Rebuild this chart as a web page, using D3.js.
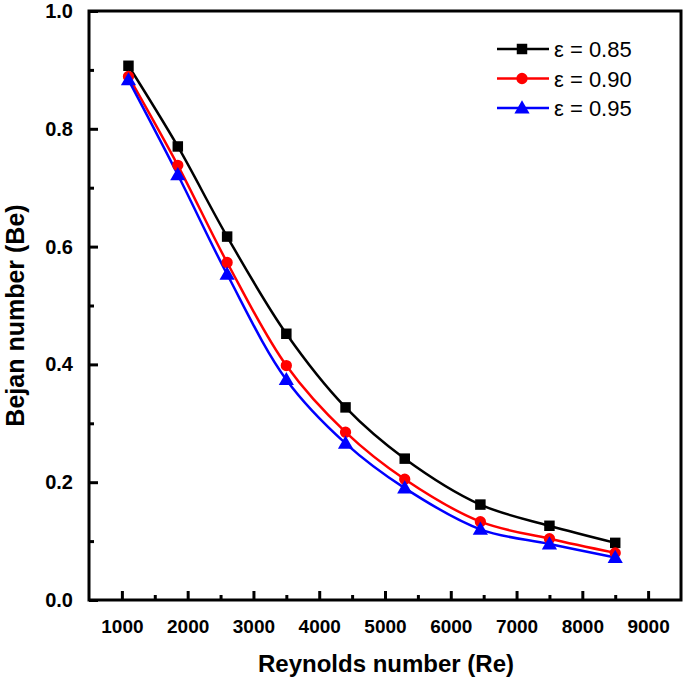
<!DOCTYPE html>
<html><head><meta charset="utf-8">
<script src="https://cdn.jsdelivr.net/npm/d3@7"></script>
<style>body{margin:0;background:#fff}svg{display:block}</style>
</head><body>
<script>
const reynolds = [1100, 1850, 2600, 3500, 4400, 5300, 6450, 7500, 8500];
const be085 = [0.907, 0.770, 0.617, 0.452, 0.327, 0.240, 0.162, 0.126, 0.097];
const be090 = [0.889, 0.738, 0.573, 0.398, 0.285, 0.205, 0.133, 0.104, 0.080];
const be095 = [0.883, 0.722, 0.553, 0.374, 0.266, 0.190, 0.120, 0.095, 0.072];
const seriesNames = ["ε = 0.85", "ε = 0.90", "ε = 0.95"];
const seriesColors = ["#000000", "#ff0000", "#0000ff"];
const seriesSymbols = ["square", "circle", "triangle"];
const xTicks = [1000, 2000, 3000, 4000, 5000, 6000, 7000, 8000, 9000];
const xMinor = [1500, 2500, 3500, 4500, 5500, 6500, 7500, 8500];
const yTicks = [0, 0.2, 0.4, 0.6, 0.8, 1.0];
const yMinor = [0.1, 0.3, 0.5, 0.7, 0.9];

const W = 685, H = 679;
const L = 89, R = 681, T = 11, B = 600;
const FONT = "Liberation Sans, Arial, sans-serif";
const svg = d3.select("body").append("svg").attr("width", W).attr("height", H);
const x = d3.scaleLinear().domain([500, 9500]).range([L, R]);
const y = d3.scaleLinear().domain([0, 1]).range([B, T]);

const series = [be085, be090, be095].map((v, i) => ({
  name: seriesNames[i], color: seriesColors[i], sym: seriesSymbols[i],
  pts: reynolds.map((r, j) => [r, v[j]])
}));

const line = d3.line().x(d => x(d[0])).y(d => y(d[1])).curve(d3.curveCatmullRom.alpha(0.5));
const symMap = {square: d3.symbolSquare, circle: d3.symbolCircle, triangle: d3.symbolTriangle};
const symSize = {square: 110, circle: 100, triangle: 100};

const plot = svg.append("g");
series.forEach(s => {
  plot.append("path").attr("d", line(s.pts)).attr("fill", "none")
    .attr("stroke", s.color).attr("stroke-width", 2.5);
});
series.forEach(s => {
  plot.selectAll(null).data(s.pts).enter().append("path")
    .attr("d", d3.symbol().type(symMap[s.sym]).size(symSize[s.sym]))
    .attr("transform", d => `translate(${x(d[0])},${y(d[1]) + (s.sym === "triangle" ? 1 : 0)})`)
    .attr("fill", s.color);
});

// frame
svg.append("rect").attr("x", L).attr("y", T).attr("width", R - L).attr("height", B - T)
  .attr("fill", "none").attr("stroke", "#000").attr("stroke-width", 3);

// x axis ticks (inward)
const xAxis = d3.axisBottom(x).tickValues(xTicks).tickSizeInner(-9).tickSizeOuter(0).tickPadding(20)
  .tickFormat(d3.format("d"));
const gx = svg.append("g").attr("transform", `translate(0,${B})`).call(xAxis);
gx.select(".domain").remove();
gx.selectAll(".tick line").attr("stroke-width", 3);
gx.selectAll(".tick text").attr("font-family", FONT)
  .attr("font-weight", "bold").attr("font-size", 19).attr("fill", "#000");
const gxm = svg.append("g").attr("transform", `translate(0,${B})`)
  .call(d3.axisBottom(x).tickValues(xMinor).tickSizeInner(-5).tickSizeOuter(0).tickFormat(""));
gxm.select(".domain").remove();
gxm.selectAll(".tick line").attr("stroke-width", 3);

// y axis ticks (inward)
const yAxis = d3.axisLeft(y).tickValues(yTicks).tickSizeInner(-9).tickSizeOuter(0).tickPadding(16)
  .tickFormat(d3.format(".1f"));
const gy = svg.append("g").attr("transform", `translate(${L},0)`).call(yAxis);
gy.select(".domain").remove();
gy.selectAll(".tick line").attr("stroke-width", 3);
gy.selectAll(".tick text").attr("font-family", FONT)
  .attr("font-weight", "bold").attr("font-size", 20).attr("fill", "#000");
const gym = svg.append("g").attr("transform", `translate(${L},0)`)
  .call(d3.axisLeft(y).tickValues(yMinor).tickSizeInner(-5).tickSizeOuter(0).tickFormat(""));
gym.select(".domain").remove();
gym.selectAll(".tick line").attr("stroke-width", 3);

// axis titles
svg.append("text").attr("x", (L + R) / 2 + 1).attr("y", 672).attr("text-anchor", "middle")
  .attr("font-family", FONT).attr("font-weight", "bold")
  .attr("font-size", 24).text("Reynolds number (Re)");
svg.append("text").attr("transform", `translate(24,${(T + B) / 2 + 10}) rotate(-90)`)
  .attr("text-anchor", "middle")
  .attr("font-family", FONT).attr("font-weight", "bold")
  .attr("font-size", 25).text("Bejan number (Be)");

// legend
const lg = svg.append("g");
series.forEach((s, i) => {
  const ly = 49 + i * 29.5;
  lg.append("line").attr("x1", 497).attr("x2", 549).attr("y1", ly).attr("y2", ly)
    .attr("stroke", s.color).attr("stroke-width", 2.5);
  lg.append("path").attr("d", d3.symbol().type(symMap[s.sym]).size(symSize[s.sym]))
    .attr("transform", `translate(522,${ly + (s.sym === "triangle" ? 1 : 0)})`).attr("fill", s.color);
  lg.append("text").attr("x", 554).attr("y", ly + 8)
    .attr("font-family", FONT).attr("font-size", 22)
    .text(s.name);
});
</script>
</body></html>
